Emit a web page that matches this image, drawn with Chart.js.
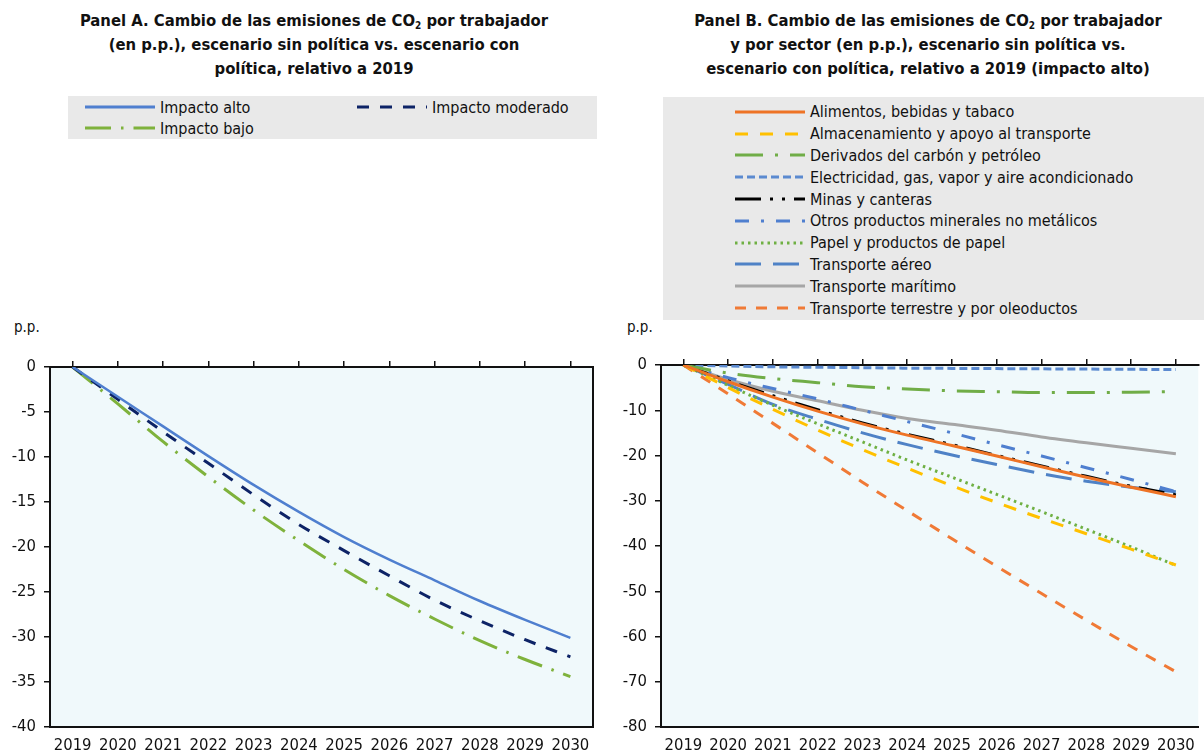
<!DOCTYPE html>
<html lang="es">
<head>
<meta charset="utf-8">
<script src="https://cdn.jsdelivr.net/npm/chart.js@4.4.1/dist/chart.umd.min.js"></script>
<style>
  body { margin: 0; width: 1204px; height: 754px; position: relative; overflow: hidden; background: #fff;
    font-family: "Liberation Sans Narrow", "Arial Narrow", "DejaVu Sans Condensed", sans-serif; color: #111; }
  .title { position: absolute; top: 9px; font-weight: bold; font-size: 16.5px; line-height: 24px; text-align: center; }
  .title sub { font-size: 10px; vertical-align: -3px; line-height: 0; }
  .legend { position: absolute; background: #e9e9e9; font-size: 16px; }
  .legend .item { display: flex; align-items: center; height: 20px; white-space: nowrap; }
  .legend svg { flex: none; margin-right: 5px; }
  .unit { position: absolute; top: 318px; font-size: 15px; }
  canvas { position: absolute; top: 345px; }
</style>
</head>
<body>
<div class="title" style="left:0;width:628px">Panel A. Cambio de las emisiones de CO<sub>2</sub> por trabajador<br>(en p.p.), escenario sin política vs. escenario con<br>política, relativo a 2019</div>
<div class="title" style="left:628px;width:600px">Panel B. Cambio de las emisiones de CO<sub>2</sub> por trabajador<br>y por sector (en p.p.), escenario sin política vs.<br>escenario con política, relativo a 2019 (impacto alto)</div>

<div id="legend-a" class="legend" style="left:68px;top:96px;width:529px;height:43px;box-sizing:border-box;display:grid;grid-template-columns:272px auto;padding:1px 0 0 17px"></div>
<div id="legend-b" class="legend" style="left:663px;top:97px;width:541px;height:223px;box-sizing:border-box;padding:4px 0 0 72px"></div>

<div class="unit" style="left:14px">p.p.</div>
<div class="unit" style="left:627px">p.p.</div>

<canvas id="chart-a" width="600" height="409" style="left:0"></canvas>
<canvas id="chart-b" width="604" height="409" style="left:600px"></canvas>

<script>
const years = ["2019", "2020", "2021", "2022", "2023", "2024", "2025", "2026", "2027", "2028", "2029", "2030"];

// Panel A
const impactoAlto = [0, -3.3, -6.6, -9.9, -13.1, -16.1, -18.9, -21.4, -23.7, -26.0, -28.1, -30.1];
const impactoModerado = [0, -3.6, -7.2, -10.7, -14.2, -17.5, -20.4, -23.2, -25.9, -28.2, -30.3, -32.2];
const impactoBajo = [0, -4.1, -8.3, -12.2, -15.9, -19.3, -22.5, -25.4, -28.0, -30.4, -32.5, -34.4];

// Panel B (impacto alto, por sector)
const alimentos = [0, -3.7, -7.1, -10.2, -13.0, -15.5, -17.8, -20.1, -22.5, -24.8, -27.0, -29.1];
const almacenamiento = [0, -5.0, -9.8, -14.4, -18.7, -22.8, -26.7, -30.4, -33.9, -37.3, -40.7, -44.2];
const derivados = [0, -1.8, -3.0, -3.9, -4.8, -5.3, -5.7, -5.9, -6.1, -6.1, -6.0, -5.9];
const electricidad = [0, -0.2, -0.4, -0.5, -0.6, -0.7, -0.75, -0.8, -0.85, -0.9, -0.95, -1.0];
const minas = [0, -3.5, -6.8, -9.9, -12.8, -15.3, -17.6, -20.0, -22.3, -24.6, -26.8, -28.7];
const otrosMinerales = [0, -2.8, -5.2, -7.5, -10.0, -12.5, -15.0, -17.6, -20.1, -22.7, -25.3, -28.0];
const papel = [0, -4.5, -8.9, -13.0, -17.0, -21.0, -24.8, -28.6, -32.4, -36.3, -40.2, -44.3];
const aereo = [0, -4.3, -8.7, -12.0, -15.0, -17.6, -19.9, -22.0, -24.0, -25.7, -27.0, -28.0];
const maritimo = [0, -3.2, -5.8, -7.9, -10.0, -11.8, -13.1, -14.4, -15.9, -17.2, -18.4, -19.6];
const terrestre = [0, -6.4, -12.9, -19.4, -25.9, -32.2, -38.4, -44.5, -50.5, -56.4, -62.2, -67.8];

Chart.defaults.font.family = '"Liberation Sans Narrow", "Arial Narrow", "DejaVu Sans Condensed", sans-serif';
Chart.defaults.font.size = 16.5;
Chart.defaults.color = "#111";

function line(label, data, color, dash, width = 3) {
  return {
    label, data,
    borderColor: color, backgroundColor: color,
    borderDash: dash, borderWidth: width,
    pointRadius: 0, cubicInterpolationMode: "monotone",
    xAxisID: "x", yAxisID: "y",
  };
}

const plotBackground = {
  id: "plotBackground",
  beforeDraw(chart) {
    const { ctx, chartArea: a } = chart;
    ctx.save();
    ctx.fillStyle = "#f0f9fb";
    ctx.fillRect(a.left, a.top, a.right - a.left, a.bottom - a.top);
    ctx.restore();
  },
};

function makeChart(canvasId, datasets, yMin, yStep, yWidth, pad, rightBorder) {
  const scales = {
    y: {
      min: yMin, max: 0,
      ticks: { stepSize: yStep, padding: 8, color: "#111" },
      grid: { drawOnChartArea: false, drawTicks: true, tickLength: 6, color: "#111", lineWidth: 1.5 },
      border: { color: "#111", width: 2 },
      afterFit: (s) => { s.width = yWidth; },
    },
    x: {
      offset: true,
      ticks: { maxRotation: 0, autoSkip: false, padding: 9, color: "#111" },
      grid: { drawOnChartArea: false, drawTicks: false },
      border: { color: "#111", width: 2 },
      afterFit: (s) => { s.height = 27; },
    },
    xTop: {
      type: "category", position: "top", offset: true,
      ticks: { display: false },
      grid: { drawOnChartArea: false, drawTicks: true, tickLength: 6, color: "#111", lineWidth: 1.5 },
      border: { color: "#111", width: 2 },
      afterFit: (s) => { s.height = 6; },
    },
  };
  if (rightBorder) {
    scales.yRight = {
      position: "right", min: yMin, max: 0,
      ticks: { display: false },
      grid: { drawOnChartArea: false, drawTicks: false },
      border: { color: "#111", width: 2 },
      afterFit: (s) => { s.width = 0; },
    };
  }
  return new Chart(document.getElementById(canvasId), {
    type: "line",
    data: { labels: years, datasets },
    options: {
      responsive: false,
      animation: false,
      layout: { padding: pad },
      scales,
      plugins: { legend: { display: false }, tooltip: { enabled: false } },
    },
    plugins: [plotBackground],
  });
}

function buildLegend(elId, chart) {
  const box = document.getElementById(elId);
  chart.data.datasets.forEach((ds) => {
    const item = document.createElement("div");
    item.className = "item";
    const dash = (ds.borderDash || []).join(",");
    item.innerHTML =
      `<svg width="70" height="10"><line x1="0" y1="5" x2="70" y2="5" stroke="${ds.borderColor}" ` +
      `stroke-width="3" ${dash ? `stroke-dasharray="${dash}"` : ""}/></svg><span>${ds.label}</span>`;
    box.appendChild(item);
  });
}

const chartA = makeChart("chart-a", [
  line("Impacto alto", impactoAlto, "#4f7fcf", [], 2.5),
  line("Impacto moderado", impactoModerado, "#0d2366", [12, 11]),
  line("Impacto bajo", impactoBajo, "#7fb23c", [26, 10, 2.5, 10]),
], -40, 5, 50, { top: 16, right: 7, bottom: 0, left: 0 }, true);

const chartB = makeChart("chart-b", [
  line("Alimentos, bebidas y tabaco", alimentos, "#ee7325", []),
  line("Almacenamiento y apoyo al transporte", almacenamiento, "#ffc000", [13, 12]),
  line("Derivados del carbón y petróleo", derivados, "#70ad47", [28, 12, 3, 12]),
  line("Electricidad, gas, vapor y aire acondicionado", electricidad, "#5b8ad0", [8, 4]),
  line("Minas y canteras", minas, "#000000", [26, 9, 3, 9, 3, 9]),
  line("Otros productos minerales no metálicos", otrosMinerales, "#4f7fcf", [14, 12, 3, 12]),
  line("Papel y productos de papel", papel, "#6fb043", [2.5, 4]),
  line("Transporte aéreo", aereo, "#4f82c6", [26, 12]),
  line("Transporte marítimo", maritimo, "#a6a6a6", []),
  line("Transporte terrestre y por oleoductos", terrestre, "#f07a36", [11, 10]),
], -80, 10, 61, { top: 14, right: 0, bottom: 0, left: 0 }, false);

buildLegend("legend-a", chartA);
buildLegend("legend-b", chartB);
document.querySelectorAll("#legend-b .item").forEach((el) => { el.style.height = "21.8px"; });
</script>
</body>
</html>
